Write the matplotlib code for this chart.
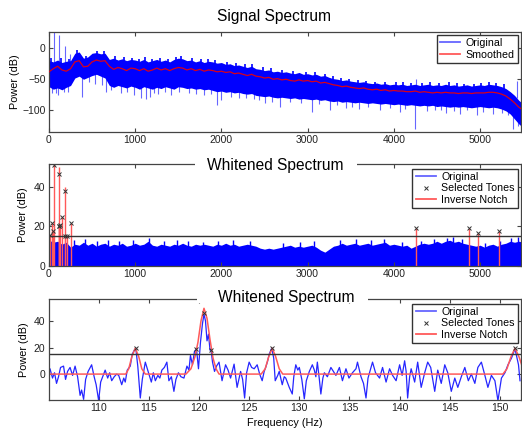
import numpy as np
import matplotlib
matplotlib.use('Agg')
import matplotlib.pyplot as plt
from matplotlib.lines import Line2D
from matplotlib.patches import Rectangle

plt.rcParams['font.family'] = ['Liberation Sans', 'DejaVu Sans']

# --- Signal spectrum (read every 50 Hz) ---
spec_freq = np.arange(0, 5550, 50)
spec_hi = [-20, -22, -19, -23, -21, -20, -8, -6, -16, -14, -8, -7, -9, -8, -18, -16, -19, -17, -20, -18,
           -19, -21, -18, -22, -20, -18, -21, -19, -22, -18, -16, -17, -20, -19, -22, -20, -23, -21, -22, -24,
           -23, -26, -25, -28, -27, -29, -31, -29, -33, -34, -36, -35, -38, -37, -39, -38, -40, -41, -39, -42,
           -41, -43, -42, -45, -44, -47, -49, -50, -52, -51, -53, -54, -55, -54, -56, -57, -56, -58, -57, -59,
           -58, -59, -58, -60, -59, -58, -60, -59, -58, -60, -59, -60, -58, -60, -59, -61, -60, -59, -61, -60,
           -59, -60, -58, -59, -60, -62, -65, -70, -76, -84, -90]
spec_lo = [-62, -66, -64, -67, -63, -60, -48, -45, -50, -47, -44, -42, -45, -48, -60, -63, -60, -62, -64, -61,
           -63, -66, -62, -64, -66, -63, -65, -62, -64, -66, -62, -63, -65, -64, -66, -65, -67, -66, -68, -70,
           -69, -71, -70, -72, -71, -73, -74, -73, -76, -77, -78, -77, -79, -80, -79, -80, -81, -80, -82, -81,
           -82, -83, -82, -84, -83, -85, -86, -85, -87, -86, -87, -88, -87, -88, -89, -88, -89, -90, -89, -90,
           -91, -90, -91, -92, -91, -92, -93, -92, -93, -92, -94, -93, -94, -95, -94, -95, -94, -95, -96, -95,
           -94, -95, -96, -95, -96, -98, -101, -106, -114, -122, -128]
smooth_db = [-38, -33, -29, -35, -37, -33, -22, -20, -30, -29, -22, -19, -21, -20, -29, -34, -31, -33, -36, -32,
             -33, -36, -33, -37, -35, -32, -35, -33, -36, -33, -31, -32, -35, -33, -36, -34, -37, -35, -36, -38,
             -37, -39, -38, -41, -40, -42, -44, -42, -45, -46, -48, -47, -50, -49, -51, -50, -52, -53, -51, -53,
             -52, -54, -53, -56, -55, -57, -59, -60, -62, -61, -63, -64, -65, -64, -66, -67, -66, -68, -67, -69,
             -68, -69, -69, -70, -70, -69, -71, -70, -71, -72, -71, -72, -71, -72, -72, -73, -72, -72, -73, -72,
             -72, -72, -71, -71, -72, -74, -77, -82, -88, -95, -100]
# isolated spikes of the original spectrum: freq, low end, high end (dB)
spike_f = [30, 110, 175, 385, 535, 610, 665, 830, 990, 1070, 1130, 1170, 1260, 1420, 1800, 1950, 2000, 2200,
           2380, 2505, 2680, 3045, 3260, 3450, 3600, 3840, 4070, 4245, 4380, 4610, 4765, 4960, 5150, 5385, 5445,
           60, 120, 185, 245, 3260, 4260, 5430,
           80, 215, 460, 720, 905, 1215, 1340, 1510, 1620, 1705, 1880, 2110, 2290, 2440, 2590, 2790, 2920,
           3130, 3340, 3520, 3700, 3960, 4130, 4480, 4550, 4700, 4850, 5040, 5250, 5320]
spike_lo = [-72, -76, -70, -78, -58, -60, -70, -72, -76, -80, -82, -78, -74, -76, -76, -92, -84, -80,
            -82, -88, -94, -103, -100, -96, -98, -100, -102, -130, -101, -104, -106, -108, -106, -130, -125,
            -40, -40, -40, -40, -60, -65, -80,
            -72, -70, -55, -68, -70, -72, -71, -70, -72, -73, -74, -78, -80, -84, -86, -87, -89,
            -90, -92, -94, -95, -97, -98, -99, -100, -101, -100, -102, -104, -108]
spike_hi = [-40, -40, -40, -35, -30, -30, -30, -40, -40, -40, -40, -40, -40, -40, -40, -45, -45, -45,
            -50, -55, -55, -60, -60, -65, -65, -70, -70, -70, -70, -70, -70, -70, -70, -80, -90,
            30, 22, 3, -10, -48, -50, -52,
            -40, -40, -30, -40, -40, -40, -40, -40, -40, -40, -45, -45, -50, -55, -55, -60, -60,
            -60, -65, -65, -70, -70, -70, -70, -70, -70, -70, -70, -75, -80]
# short excursions just above the dense band
edge_f = [20, 140, 230, 330, 430, 560, 640, 760, 870, 960, 1040, 1110, 1190, 1290, 1380, 1470, 1530, 1660,
          1760, 1850, 1930, 2060, 2170, 2270, 2360, 2480, 2570, 2700, 2830, 2980, 3090, 3200, 3300, 3390,
          3480, 3580, 3680, 3780, 3900, 4020, 4110, 4200, 4330, 4420, 4520, 4640, 4730, 4810, 4930, 5010,
          5100, 5180, 5280]
edge_hi = [-16, -15, -17, -3, -12, -4, -5, -13, -14, -15, -17, -14, -18, -16, -17, -14, -12, -16,
           -17, -18, -19, -22, -23, -25, -26, -31, -32, -35, -37, -38, -39, -41, -45, -48,
           -49, -51, -52, -54, -54, -55, -55, -56, -56, -55, -56, -55, -56, -57, -57, -56,
           -55, -56, -58]
edge_lo = [-36, -33, -35, -21, -29, -19, -20, -33, -34, -32, -35, -33, -36, -35, -34, -32, -31, -33,
           -34, -35, -37, -39, -40, -43, -42, -47, -48, -51, -52, -52, -53, -55, -59, -62,
           -62, -64, -65, -66, -67, -68, -69, -70, -70, -71, -71, -72, -72, -72, -72, -72,
           -71, -71, -76]

# --- Whitened spectrum, full band ---
white_hi = [13, 12, 12.5, 11, 12, 9.5, 11, 10.5, 12, 10.5, 11.5, 10, 11, 11.5, 10, 11, 10.5, 11.5, 10, 10.5,
            11.5, 10.5, 11, 12.5, 10.5, 10, 11, 10.5, 10, 11, 10.5, 11.5, 10.5, 10, 11, 10.5, 11, 10.5, 10, 11,
            10.5, 11.5, 10.5, 11, 10, 10.5, 11, 10.5, 10, 9, 8.5, 9, 8.5, 9, 9.5, 10, 10.5, 9.5, 10, 9.5,
            10, 10.5, 9.5, 8, 7, 8.5, 10, 10.5, 11.5, 10.5, 11, 11.5, 10.5, 11, 11.5, 10.5, 11, 11.5, 12, 10.5,
            11, 10.5, 10, 10.5, 9, 10, 11, 11.5, 11, 11.5, 12.5, 11.5, 12.5, 13, 12, 12.5, 11.5, 11, 10.5, 10,
            10.5, 9.5, 10.5, 11, 10, 11, 11.5, 12.5, 12, 12.5, 12]
white_edge_f = [290, 420, 560, 690, 810, 980, 1160, 1330, 1480, 1610, 1790, 1960, 2140, 2330, 2720, 2910,
                3070, 3380, 3560, 3730, 3890, 4090, 4310, 4470, 4620, 4690, 4790, 5060, 5230, 5360, 5440]
white_edge_hi = [13, 13.5, 12.5, 13, 12.5, 13, 14, 12.5, 13, 12.5, 12, 12.5, 13, 12.5, 11.5, 12,
                 12.5, 13, 13.5, 13, 13.5, 12, 12.5, 13.5, 14, 14.5, 13.5, 11.5, 12.5, 14, 14.5]
full_tone_f = [14, 33, 52, 60, 113.7, 120.5, 121.2, 127.2, 151.5, 186, 191, 205, 250, 4262, 4876, 4980, 5220]
full_tone_db = [15.7, 21.5, 17.5, 51, 20, 46.5, 20, 20.5, 24.5, 38, 15.3, 15.3, 21.5, 19.3, 19, 16.5, 17.7]
full_notch_db = [15.7, 21.5, 17.5, 51.5, 20, 50, 20, 20.5, 24.5, 40, 15.3, 15.3, 21.5, 19.3, 19, 16.5, 17.7]
threshold_db = 15

# --- Whitened spectrum, 105-152 Hz ---
zoom_f = [105.05, 105.15, 105.4, 105.6, 105.8, 106.0, 106.2, 106.5, 106.7, 106.9, 107.15, 107.4, 107.65,
          107.9, 108.15, 108.3, 108.5, 108.7, 108.95, 109.3, 109.55, 109.75, 110.0, 110.2, 110.45, 110.65,
          110.9, 111.1, 111.3, 111.55, 111.8, 112.0, 112.3, 112.5, 112.65, 112.85, 113.15, 113.35, 113.55,
          113.7, 113.9, 114.15, 114.35, 114.65, 114.85, 115.0, 115.25, 115.45, 115.65, 115.9, 116.1, 116.3,
          116.55, 116.8, 117.0, 117.25, 117.5, 117.7, 117.95, 118.2, 118.5, 118.8, 119.0, 119.15, 119.35,
          119.55, 119.75, 119.95, 120.15, 120.35, 120.5, 120.65, 120.8, 120.95, 121.1, 121.2, 121.35, 121.55,
          121.75, 122.0, 122.3, 122.5, 122.65, 122.9, 123.15, 123.5, 123.8, 124.15, 124.35, 124.55, 124.75,
          125.0, 125.25, 125.5, 125.8, 126.05, 126.3, 126.5, 126.65, 126.85, 127.0, 127.25, 127.45, 127.6,
          127.85, 128.0, 128.3, 128.5, 128.65, 129.0, 129.3, 129.45, 129.65, 129.85, 130.0, 130.25, 130.5,
          130.7, 131.0, 131.3, 131.5, 131.65, 131.8, 132.0, 132.15, 132.35, 132.5, 132.8, 133.15, 133.4,
          133.65, 134.0, 134.3, 134.65, 134.95, 135.3, 135.65, 135.8, 136.15, 136.4, 136.65, 136.85, 137.0,
          137.3, 137.6, 138.0, 138.3, 138.65, 139.0, 139.3, 139.65, 140.0, 140.25, 140.5, 140.65, 140.8,
          141.0, 141.15, 141.5, 141.8, 142.15, 142.5, 142.8, 143.1, 143.5, 143.8, 144.15, 144.5, 144.8,
          145.15, 145.5, 145.8, 146.15, 146.5, 146.85, 147.15, 147.5, 147.8, 148.15, 148.5, 148.8, 149.15,
          149.5, 149.8, 150.15, 150.5, 150.8, 151.15, 151.35, 151.5, 151.7, 151.85, 152.0]
zoom_db = [2, 4, -3, 1, -7, -2, 5, 6, -4, 2, 5, -1, 6,
           -2, -16, -12, -19, -4, 2, 7, -2, -8, -20, -6, -1, 3,
           -3, 1, -5, -2, 0, -1, -8, -3, -6, 3, 6, 15, 18,
           19.5, 6, -18, -4, 9, 4, 0, -6, 1, -5, -1, -3, 3,
           5, 9, -5, -2, -13, -4, 1, -2, -3, 6, 3, 14, 7,
           17, 19, 4, 24, 38, 45, 40, 25, 30, 18, 18.5, 9, 2,
           6, 9, -5, 2, 7, 3, -3, 7.5, -10, 2, -4, -18, 1,
           9, 5, 4, 7, 0, -5, 2, 5, 10, 15, 19.5, 12, -5,
           -1, 2, -8, -2, -3, -10, -15, -2, 7, 3, 5, -4, -18.6,
           -5, 2, 7, 3, -2, 9, -4, -15, -3, 1, -2, 5, 2,
           -1, 5, -5, 4, -3, 1, 4, 9, -2, -7, -18, -3, 1,
           9, 1, -3, 5, -6, 4, -1, -5, 7, -1, 10, 2, -18,
           -2, 4, -6, 9, -10, 1, 9, 5, -13, 3, -7, 7, 1,
           -13, -3, -10, -2, 5, -5, 0, -7, 5, 9, -1, -10, -1,
           -5, -20, -3, 1, 7, 12, 16, 19, 12, 7, -5]
notch_f = [105.0, 112.7, 113.0, 113.3, 113.65, 114.0, 114.3, 114.65, 118.7, 119.2, 119.6, 119.9, 120.2,
           120.5, 120.8, 121.1, 121.4, 121.7, 122.0, 126.2, 126.6, 126.95, 127.3, 127.65, 128.0, 128.35,
           150.3, 150.7, 151.1, 151.5, 151.9, 152.3]
notch_db = [0, 0, 4, 13, 19.5, 13, 4, 0, 0, 4, 13, 24, 40,
            49.5, 42, 26, 12, 4, 0, 0, 4, 13, 19.5, 13, 4, 0,
            0, 4, 13, 19.5, 13, 4]
tone_f = [113.7, 119.75, 120.5, 121.2, 127.25, 151.5]
tone_db = [19.5, 19, 46, 18.5, 20, 19.5]

W, H = 522, 432
BLUE = (0.0, 0.0, 1.0)
LBLUE = (0.4, 0.4, 1.0)
LRED = (1.0, 0.35, 0.35)
AXC = '#444444'


def box(l, t, r, b):
    return [l / W, 1 - b / H, (r - l) / W, (b - t) / H]


def style(ax):
    for s in ax.spines.values():
        s.set_color(AXC)
        s.set_linewidth(0.9)
    ax.tick_params(direction='in', top=True, right=True, length=3, width=0.8,
                   labelsize=7.5, pad=2.5, color=AXC, labelcolor='#222222')


fig = plt.figure(figsize=(W / 100, H / 100), dpi=100)
ax1 = fig.add_axes(box(49, 31.5, 521, 132))
ax2 = fig.add_axes(box(49, 164, 521, 266))
ax3 = fig.add_axes(box(49, 299, 521, 400))

# top panel
ax1.vlines(spike_f, spike_lo, spike_hi, color=LBLUE, lw=0.8, zorder=1)
ax1.fill_between(spec_freq, spec_lo, spec_hi, color=BLUE, lw=0, zorder=2)
ax1.vlines(edge_f, edge_lo, edge_hi, color=BLUE, lw=1.2, zorder=2)
ax1.plot(spec_freq, smooth_db, color=(0.85, 0.0, 0.1), lw=0.9, zorder=3)
ax1.set_xlim(0, 5475)
ax1.set_ylim(-135, 27)
ax1.set_xticks([0, 1000, 2000, 3000, 4000, 5000])
ax1.set_yticks([-100, -50, 0])
ax1.set_ylabel('Power (dB)', fontsize=7.8)
ax1.yaxis.set_label_coords(-0.0625, 0.5)
style(ax1)
ax1.legend(handles=[Line2D([], [], color=LBLUE, lw=1.3, label='Original'),
                    Line2D([], [], color=LRED, lw=1.3, label='Smoothed')],
           loc='upper right', bbox_to_anchor=(518 / W, 1 - 35 / H), bbox_transform=fig.transFigure,
           borderaxespad=0, fontsize=7.7, fancybox=False, framealpha=1, edgecolor='#333333',
           handlelength=1.9, handletextpad=0.5, labelspacing=0.15, borderpad=0.3)

# middle panel
ax2.fill_between(spec_freq, 0, white_hi, color=BLUE, lw=0)
ax2.vlines(white_edge_f, 0, white_edge_hi, color=BLUE, lw=1.0)
ax2.vlines(full_tone_f, 0, full_notch_db, color=LRED, lw=1.0)
ax2.plot(full_tone_f, full_tone_db, 'x', color='#333333', ms=3.5, mew=0.7)
ax2.axhline(threshold_db, color='#333333', lw=1.0)
ax2.set_xlim(0, 5475)
ax2.set_ylim(0, 51.5)
ax2.set_xticks([0, 1000, 2000, 3000, 4000, 5000])
ax2.set_yticks([0, 20, 40])
ax2.set_ylabel('Power (dB)', fontsize=7.8)
ax2.yaxis.set_label_coords(-0.0455, 0.5)
style(ax2)

# bottom panel
ax3.plot(zoom_f, zoom_db, color=(0.15, 0.15, 1.0), lw=0.9)
ax3.plot(notch_f, notch_db, color=LRED, lw=1.1)
ax3.plot(tone_f, tone_db, 'x', color='#333333', ms=3.5, mew=0.7)
ax3.axhline(threshold_db, color='#333333', lw=1.0)
ax3.set_xlim(105.05, 152.1)
ax3.set_ylim(-19.5, 56.5)
ax3.set_xticks([110, 115, 120, 125, 130, 135, 140, 145, 150])
ax3.set_yticks([0, 20, 40])
ax3.set_ylabel('Power (dB)', fontsize=7.8)
ax3.yaxis.set_label_coords(-0.0434, 0.5)
ax3.set_xlabel('Frequency (Hz)', fontsize=7.8, labelpad=3)
style(ax3)

tone_handles = [Line2D([], [], color=LBLUE, lw=1.3, label='Original'),
                Line2D([], [], ls='none', marker='x', color='#333333', ms=3, mew=0.7, label='Selected Tones'),
                Line2D([], [], color=LRED, lw=1.3, label='Inverse Notch')]
for ax, top in [(ax2, 169), (ax3, 304)]:
    ax.legend(handles=tone_handles, loc='upper right', bbox_to_anchor=(518 / W, 1 - top / H),
              bbox_transform=fig.transFigure, borderaxespad=0, fontsize=7.7, fancybox=False,
              framealpha=1, edgecolor='#333333', handlelength=1.9, handletextpad=0.5,
              labelspacing=0.12, borderpad=0.3)

# titles; the lower two sit on the axes' top edge
fig.text(274 / W, 1 - 20.5 / H, 'Signal Spectrum', ha='center', va='baseline', fontsize=11.2)
for l, r, spine_y, cx, base in [(195, 357, 164, 275, 170), (197, 368, 299, 286.5, 301.7)]:
    fig.add_artist(Rectangle((l / W, 1 - (spine_y + 4) / H), (r - l) / W, 8 / H,
                             transform=fig.transFigure, facecolor='white', edgecolor='none', zorder=5))
    fig.text(cx / W, 1 - base / H, 'Whitened Spectrum', ha='center', va='baseline', fontsize=11.2, zorder=6)

fig.savefig('out.png', dpi=100)
